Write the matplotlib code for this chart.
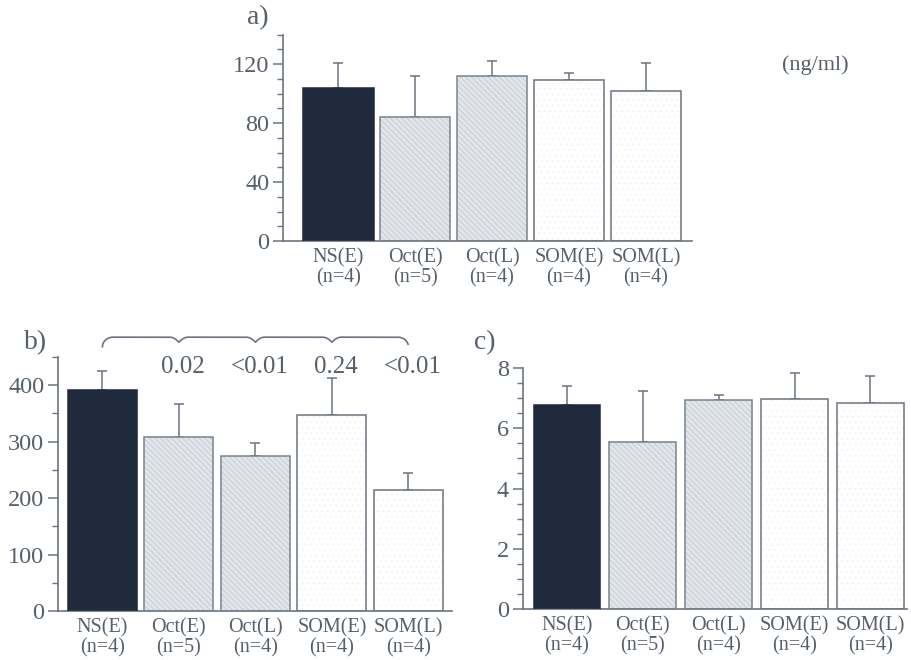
import numpy as np
import matplotlib
matplotlib.use("Agg")
import matplotlib.pyplot as plt
from matplotlib.ticker import MultipleLocator

plt.rcParams['font.family'] = ['Liberation Serif', 'DejaVu Serif']
plt.rcParams['hatch.linewidth'] = 0.5

TEXT = '#56606b'
AXIS = '#6b7480'

groups = ['NS(E)', 'Oct(E)', 'Oct(L)', 'SOM(E)', 'SOM(L)']
n_sizes = ['(n=4)', '(n=5)', '(n=4)', '(n=4)', '(n=4)']

# panel a (ng/ml)
a_mean = [104, 84, 112, 109, 101.5]
a_upper = [121, 112, 122, 114, 120.5]
# panel b
b_mean = [391, 308, 274, 347, 214]
b_upper = [425, 367, 298, 412, 244]
p_values = ['0.02', '<0.01', '0.24', '<0.01']
# panel c
c_mean = [6.78, 5.55, 6.95, 6.97, 6.85]
c_upper = [7.41, 7.25, 7.12, 7.85, 7.73]

face = ['#1f2a3c', '#e2e6ea', '#e2e6ea', '#ffffff', '#ffffff']
hatch = [None, '\\\\\\\\\\\\', '\\\\\\\\\\\\', '...', '...']
hatch_col = ['#1f2a3c', '#bcc3cb', '#bcc3cb', '#f1f2f4', '#f1f2f4']
outline = ['#1f2a3c', '#7a838d', '#7a838d', '#6b7480', '#6b7480']

fig = plt.figure(figsize=(9.11, 6.60), dpi=100)
fig.patch.set_facecolor('white')


def panel(rect, mean, upper, width, xlim, ylim, major, minor):
    ax = fig.add_axes(rect)
    x = np.arange(len(groups))
    for i in range(len(groups)):
        ax.bar(x[i], mean[i], width=width, color=face[i], hatch=hatch[i],
               edgecolor=hatch_col[i], linewidth=0, zorder=2)
        ax.bar(x[i], mean[i], width=width, fill=False, edgecolor=outline[i],
               linewidth=1.1, zorder=3)
    err = np.array(upper) - np.array(mean)
    ax.errorbar(x, mean, yerr=[np.zeros_like(err), err], fmt='none',
                ecolor=AXIS, elinewidth=1.1, capsize=3.5, capthick=1.1, zorder=1)
    ax.set_xlim(*xlim)
    ax.set_ylim(*ylim)
    ax.yaxis.set_major_locator(MultipleLocator(major))
    ax.yaxis.set_minor_locator(MultipleLocator(minor))
    ax.set_xticks(x)
    ax.set_xticklabels([f'{g}\n{n}' for g, n in zip(groups, n_sizes)],
                       fontsize=14.5, color=TEXT, linespacing=1.05)
    ax.tick_params(axis='x', length=0, pad=5)
    ax.tick_params(axis='y', which='major', length=7, width=1.1, color=AXIS,
                   labelsize=17.5, labelcolor=TEXT, pad=3)
    ax.tick_params(axis='y', which='minor', length=4, width=1.0, color=AXIS)
    for s in ['top', 'right']:
        ax.spines[s].set_visible(False)
    for s in ['left', 'bottom']:
        ax.spines[s].set_color(AXIS)
        ax.spines[s].set_linewidth(1.2)
    ax.set_facecolor('none')
    return ax


ax_a = panel([0.3107, 0.6348, 0.449, 0.3129], a_mean, a_upper, 0.92,
             (-0.716, 4.60), (0, 140), 40, 10)
ax_b = panel([0.0637, 0.0742, 0.4325, 0.385], b_mean, b_upper, 0.90,
             (-0.58, 4.57), (0, 450), 100, 50)
ax_c = panel([0.574, 0.0773, 0.4215, 0.365], c_mean, c_upper, 0.88,
             (-0.58, 4.48), (0, 8), 2, 0.5)

# comparison brace over panel b
y_top, y_end, y_cusp = 485, 468, 476
xs = np.linspace(0, 4, 801)
ys = np.full_like(xs, y_top)
r = 0.14
left = xs < r
ys[left] = y_top - (y_top - y_end) * (1 - np.sqrt(1 - ((r - xs[left]) / r) ** 2))
right = xs > 4 - r
ys[right] = y_top - (y_top - y_end) * (1 - np.sqrt(1 - ((xs[right] - (4 - r)) / r) ** 2))
for c in [1, 2, 3]:
    d = np.abs(xs - c)
    m = d < 0.12
    ys[m] = np.minimum(ys[m], y_top - (y_top - y_cusp) * (1 - d[m] / 0.12) ** 2)
ax_b.plot(xs, ys, color=AXIS, lw=1.2, clip_on=False, zorder=5)
for i, p in enumerate(p_values):
    ax_b.text(i + 1 + 0.05, 432, p, ha='center', va='center', fontsize=18,
              color=TEXT, clip_on=False)

fig.text(247 / 911, 1 - 18 / 660, 'a)', fontsize=20, color=TEXT, ha='left', va='center')
fig.text(24 / 911, 1 - 343 / 660, 'b)', fontsize=20, color=TEXT, ha='left', va='center')
fig.text(474 / 911, 1 - 343 / 660, 'c)', fontsize=20, color=TEXT, ha='left', va='center')
fig.text(815 / 911, 1 - 65 / 660, '(ng/ml)', fontsize=16, color=TEXT, ha='center', va='center')

fig.savefig('out.png', dpi=100, facecolor='white')
